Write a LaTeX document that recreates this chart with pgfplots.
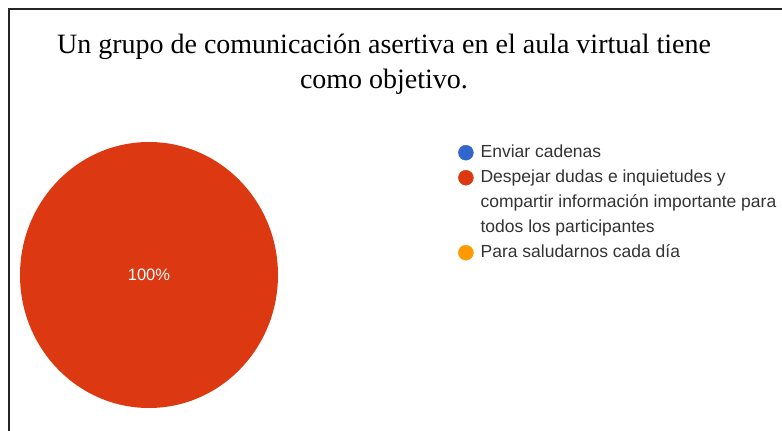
\documentclass[border=0pt]{standalone}
\usepackage{pgfplots}
\pgfplotsset{compat=1.18}
\usepackage{pgfplotstable}
\usepackage{fontspec}
\setmainfont{Liberation Serif}
\newfontfamily\sansfont{Liberation Sans}

\definecolor{gblue}{HTML}{3366CC}
\definecolor{gred}{HTML}{DC3912}
\definecolor{gorange}{HTML}{FF9900}
\definecolor{legtext}{HTML}{333333}

% answers, in percent
\pgfplotstableread{
label    value
Enviar   0
Despejar 100
Para     0
}\piedata

% one pie slice: colour, start angle, end angle (clockwise from the top)
% empty slices are skipped, a full one is drawn as a whole ellipse
\newcommand\slice[3]{%
  \pgfmathtruncatemacro\slicespan{round(abs(#3-#2)*10)}%
  \ifnum\slicespan>3599
    \fill[#1] (axis cs:149,275) ellipse[x radius=129pt, y radius=133pt];
  \else\ifnum\slicespan>0
    \fill[#1] (axis cs:149,275) -- ++({129pt*cos(#2)},{133pt*sin(#2)})
      arc[start angle=#2, end angle=#3, x radius=129pt, y radius=133pt] -- cycle;
  \fi\fi}

\begin{document}
\begin{tikzpicture}
\pgfplotstablegetelem{0}{value}\of\piedata \pgfmathsetmacro\va{\pgfplotsretval}
\pgfplotstablegetelem{1}{value}\of\piedata \pgfmathsetmacro\vb{\pgfplotsretval}
\pgfplotstablegetelem{2}{value}\of\piedata \pgfmathsetmacro\vc{\pgfplotsretval}
\pgfmathsetmacro\tot{\va+\vb+\vc}
\pgfmathsetmacro\aA{90}
\pgfmathsetmacro\aB{\aA-\va/\tot*360}
\pgfmathsetmacro\aC{\aB-\vb/\tot*360}
\pgfmathsetmacro\aD{\aC-\vc/\tot*360}
\pgfmathtruncatemacro\pB{round(\vb/\tot*100)}
\begin{axis}[
  width=782pt, height=431pt, scale only axis,
  xmin=0, xmax=782, ymin=0, ymax=431, y dir=reverse,
  hide axis, clip=false,
  legend style={at={(axis cs:458,144)}, anchor=north west,
    draw=none, fill=none, inner sep=0pt, row sep=8pt, column sep=7pt,
    font=\sansfont\fontsize{17.5}{21}\selectfont, text=legtext,
    cells={anchor=west},
    nodes={inner sep=0pt, text height=13pt, text depth=4pt}},
]
\slice{gblue}{\aA}{\aB}
\slice{gred}{\aB}{\aC}
\slice{gorange}{\aC}{\aD}
\node[text=white, font=\sansfont\fontsize{16.5}{19}\selectfont] at (axis cs:149,275) {\pB\%};

\node[anchor=base, font=\fontsize{28}{34}\selectfont] at (axis cs:384,53)
  {Un grupo de comunicación asertiva en el aula virtual tiene};
\node[anchor=base, font=\fontsize{28}{34}\selectfont] at (axis cs:384,88)
  {como objetivo.};

\draw[line width=2pt, black!85] (axis cs:9,440) -- (axis cs:9,9) -- (axis cs:790,9);

\addlegendimage{legend image code/.code={\fill[gblue] (7pt,0pt) circle[radius=7.5pt];}}
\addlegendentry{Enviar cadenas}
\addlegendimage{legend image code/.code={\fill[gred] (7pt,0pt) circle[radius=7.5pt];}}
\addlegendentry{Despejar dudas e inquietudes y}
\addlegendimage{empty legend}
\addlegendentry{compartir información importante para}
\addlegendimage{empty legend}
\addlegendentry{todos los participantes}
\addlegendimage{legend image code/.code={\fill[gorange] (7pt,0pt) circle[radius=7.5pt];}}
\addlegendentry{Para saludarnos cada día}
\end{axis}
\pgfresetboundingbox
\path (0,0) rectangle (782pt,431pt);
\end{tikzpicture}
\end{document}
